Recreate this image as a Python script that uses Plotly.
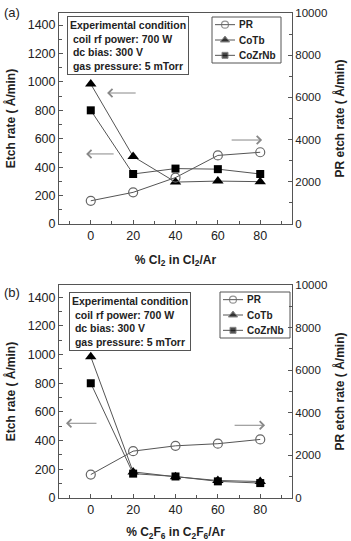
import plotly.graph_objects as go
from plotly.subplots import make_subplots

# ---------------- data ----------------
gas_pct = [0, 20, 40, 60, 80]

# panel (a): Cl2/Ar
pr_a = [1100, 1500, 2200, 3250, 3400]        # right axis (A/min)
cotb_a = [985, 475, 295, 302, 298]           # left axis
cozrnb_a = [800, 352, 390, 386, 352]

# panel (b): C2F6/Ar
pr_b = [1100, 2200, 2450, 2550, 2750]
cotb_b = [985, 182, 148, 122, 115]
cozrnb_b = [800, 170, 150, 116, 104]

series_names = ["PR", "CoTb", "CoZrNb"]
x_titles = ["% Cl<sub>2</sub> in Cl<sub>2</sub>/Ar", "% C<sub>2</sub>F<sub>6</sub> in C<sub>2</sub>F<sub>6</sub>/Ar"]
panel_labels = ["(a)", "(b)"]
cond_text = ("Experimental condition<br> coil rf power: 700 W<br> dc bias: 300 V<br> gas pressure: 5 mTorr")

# arrows: (head_x, tail_x, y on left axis)
arrows_a = [(7.7, 21.9, 922), (-2.2, 11.5, 493), (80.9, 65.8, 591)]
arrows_b = [(-11.7, 3.4, 521), (82.3, 67.2, 507)]

W, H = 351, 541
ML, MR, MT, MB = 59, 59, 13, 43
PW = W - ML - MR
PH = H - MT - MB

def yp(py):
    return (H - MB - py) / PH

def xp(px):
    return (px - ML) / PW

fig = make_subplots(rows=2, cols=1, specs=[[{"secondary_y": True}], [{"secondary_y": True}]],
                    vertical_spacing=0.1)

FONT = "Liberation Sans, Arial, sans-serif"
LINEC = "#555555"

styles = [
    dict(symbol="circle-open", size=9, color="#666666", line=dict(width=1.2)),
    dict(symbol="triangle-up", size=10, color="black"),
    dict(symbol="square", size=8, color="black"),
]
legend_marker_sizes = [7, 8, 6]

datasets = [(pr_a, cotb_a, cozrnb_a), (pr_b, cotb_b, cozrnb_b)]
for i, ds in enumerate(datasets):
    row = i + 1
    for k, vals in enumerate(ds):
        fig.add_trace(go.Scatter(x=gas_pct, y=vals, name=series_names[k], mode="lines+markers",
                                 line=dict(color=LINEC, width=1), marker=styles[k], showlegend=False),
                      row=row, col=1, secondary_y=(k == 0))

dom_a = [yp(224), 1.0]
dom_b = [0.0, yp(285)]

axis_common = dict(showline=True, linecolor=LINEC, linewidth=1, ticks="inside", ticklen=4,
                   tickcolor=LINEC, showgrid=False, zeroline=False, automargin=False)

for i in range(2):
    xa = "xaxis" if i == 0 else "xaxis2"
    dom = dom_a if i == 0 else dom_b
    fig.update_layout({
        xa: dict(axis_common, range=[-15, 95], tick0=0, dtick=20, mirror=True, domain=[0, 1],
                 tickfont=dict(family=FONT, size=12.5, color="#222"),
                 minor=dict(ticks="inside", dtick=10, tick0=0, ticklen=3, tickcolor=LINEC),
                 title=dict(text="<b>" + x_titles[i] + "</b>", font=dict(family=FONT, size=12, color="#222"),
                            standoff=13)),
    })
    ya = "yaxis" if i == 0 else "yaxis3"
    ya2 = "yaxis2" if i == 0 else "yaxis4"
    fig.update_layout({
        ya: dict(axis_common, range=[0, 1485], dtick=200, domain=dom, mirror=True,
                 tickfont=dict(family=FONT, size=12.5, color="#222"),
                 minor=dict(ticks="inside", dtick=100, ticklen=3, tickcolor=LINEC),
                 title=dict(text="<b>Etch rate ( Å/min)</b>", font=dict(family=FONT, size=12, color="#222"),
                            standoff=9)),
        ya2: dict(axis_common, range=[0, 10000], dtick=2000, domain=dom, tickformat="d",
                  tickfont=dict(family=FONT, size=11.5, color="#222"),
                  minor=dict(ticks="inside", dtick=1000, ticklen=3, tickcolor=LINEC),
                  title=dict(text="<b>PR etch rate ( Å/min)</b>", font=dict(family=FONT, size=12, color="#222"),
                             standoff=9)),
    })

# overlay axis in pixel units for the hand-built legends
fig.update_layout(
    xaxis3=dict(domain=[0, 1], range=[ML, W - MR], visible=False, fixedrange=True, anchor="y5"),
    yaxis5=dict(domain=[0, 1], range=[H - MB, MT], visible=False, fixedrange=True, anchor="x3"),
)

shapes = []
annotations = []
legend_boxes = [(212, 17, 281, 63), (220, 292, 290, 338)]
for (lx0, ly0, lx1, ly1) in legend_boxes:
    shapes.append(dict(type="rect", xref="paper", yref="paper", x0=xp(lx0), x1=xp(lx1), y0=yp(ly0), y1=yp(ly1),
                       line=dict(color=LINEC, width=1), fillcolor="white", layer="below"))
    row_h = (ly1 - ly0) / 3.0
    for k, name in enumerate(series_names):
        yy = ly0 + row_h * (k + 0.5)
        xs = [lx0 + 3, lx0 + 13, lx0 + 23]
        mk = dict(styles[k])
        mk["size"] = [0, legend_marker_sizes[k], 0]
        fig.add_trace(go.Scatter(x=xs, y=[yy] * 3, xaxis="x3", yaxis="y5", mode="lines+markers",
                                 line=dict(color=LINEC, width=1), marker=mk, showlegend=False,
                                 hoverinfo="skip", cliponaxis=False))
        annotations.append(dict(text="<b>" + name + "</b>", xref="paper", yref="paper",
                                x=xp(lx0 + 25), y=yp(yy), xanchor="left", yanchor="middle",
                                showarrow=False, font=dict(family=FONT, size=10, color="#222")))

for i in range(2):
    xref = "x" if i == 0 else "x2"
    yref = "y" if i == 0 else "y3"
    top = 16 if i == 0 else 292
    left = 67 if i == 0 else 69
    annotations.append(dict(text="<b>" + cond_text + "</b>", xref="paper", yref="paper",
                            x=xp(left), y=yp(top), xanchor="left", yanchor="top", align="left",
                            showarrow=False, bordercolor=LINEC, borderwidth=1, borderpad=2,
                            bgcolor="white", font=dict(family=FONT, size=10.5, color="#222")))
    annotations.append(dict(text=panel_labels[i], xref="paper", yref="paper",
                            x=xp(2), y=yp(12 if i == 0 else 292), xanchor="left", yanchor="middle",
                            showarrow=False, font=dict(family=FONT, size=13, color="#222")))
    for (hx, tx, yv) in (arrows_a if i == 0 else arrows_b):
        annotations.append(dict(x=hx, y=yv, ax=tx, ay=yv, xref=xref, yref=yref, axref=xref, ayref=yref,
                                text="", showarrow=True, arrowhead=4, arrowsize=1.6, arrowwidth=1,
                                arrowcolor="#888888"))
fig.update_layout(annotations=annotations, shapes=shapes)

fig.update_layout(width=W, height=H, margin=dict(l=ML, r=MR, t=MT, b=MB, autoexpand=False),
                  plot_bgcolor="rgba(0,0,0,0)", paper_bgcolor="white", showlegend=False,
                  font=dict(family=FONT))

fig.write_html("out.html")
